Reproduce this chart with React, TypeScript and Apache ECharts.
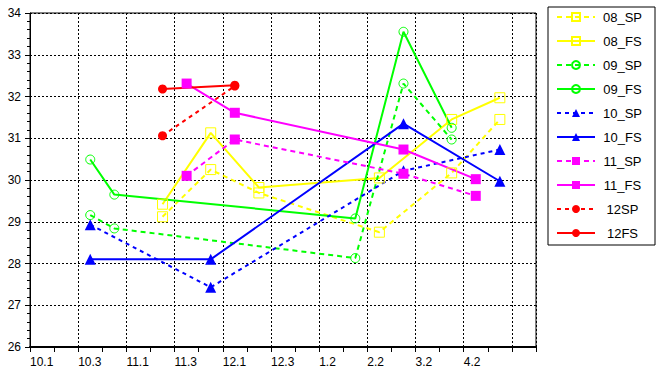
import React, { useEffect, useRef } from "react";
import * as echarts from "echarts";

const xLabels = ["10.1", "10.3", "11.1", "11.3", "12.1", "12.3", "1.2", "2.2", "3.2", "4.2"];

const sp08X = [2.75, 3.75, 4.75, 7.25, 8.75, 9.75];
const sp08Y = [29.12, 30.25, 29.69, 28.75, 30.17, 31.45];
const fs08X = [2.75, 3.75, 4.75, 7.25, 8.75, 9.75];
const fs08Y = [29.42, 31.13, 29.82, 30.05, 31.45, 31.97];

const sp09X = [1.25, 1.75, 6.75, 7.75, 8.75];
const sp09Y = [29.16, 28.84, 28.13, 32.31, 30.97];
const fs09X = [1.25, 1.75, 6.75, 7.75, 8.75];
const fs09Y = [30.49, 29.65, 29.08, 33.55, 31.25];

const sp10X = [1.25, 3.75, 7.75, 9.75];
const sp10Y = [28.93, 27.43, 30.22, 30.73];
const fs10X = [1.25, 3.75, 7.75, 9.75];
const fs10Y = [28.1, 28.1, 31.35, 29.97];

const sp11X = [3.25, 4.25, 7.75, 9.25];
const sp11Y = [30.1, 30.97, 30.15, 29.62];
const fs11X = [3.25, 4.25, 7.75, 9.25];
const fs11Y = [32.31, 31.61, 30.73, 30.02];

const sp12X = [2.75, 4.25];
const sp12Y = [31.06, 32.25];
const fs12X = [2.75, 4.25];
const fs12Y = [32.18, 32.27];

const zip = (xs: number[], ys: number[]) => xs.map((x, i) => [x, ys[i]]);

type Def = {
  name: string;
  xs: number[];
  ys: number[];
  color: string;
  dashed: boolean;
  symbol: string;
  size: number;
  hollow: boolean;
  dash?: number[];
};

const defs: Def[] = [
  { name: "08_SP", xs: sp08X, ys: sp08Y, color: "#ffff00", dashed: true, symbol: "rect", size: 10, hollow: true },
  { name: "08_FS", xs: fs08X, ys: fs08Y, color: "#ffff00", dashed: false, symbol: "rect", size: 10, hollow: true },
  { name: "09_SP", xs: sp09X, ys: sp09Y, color: "#00ff00", dashed: true, symbol: "circle", size: 9, hollow: true },
  { name: "09_FS", xs: fs09X, ys: fs09Y, color: "#00ff00", dashed: false, symbol: "circle", size: 9, hollow: true },
  { name: "10_SP", xs: sp10X, ys: sp10Y, color: "#0000ff", dashed: true, symbol: "triangle", size: 11, hollow: false, dash: [4, 4] },
  { name: "10_FS", xs: fs10X, ys: fs10Y, color: "#0000ff", dashed: false, symbol: "triangle", size: 11, hollow: false },
  { name: "11_SP", xs: sp11X, ys: sp11Y, color: "#ff00ff", dashed: true, symbol: "rect", size: 10, hollow: false },
  { name: "11_FS", xs: fs11X, ys: fs11Y, color: "#ff00ff", dashed: false, symbol: "rect", size: 10, hollow: false },
  { name: "12SP", xs: sp12X, ys: sp12Y, color: "#ff0000", dashed: true, symbol: "circle", size: 9, hollow: false, dash: [4, 4] },
  { name: "12FS", xs: fs12X, ys: fs12Y, color: "#ff0000", dashed: false, symbol: "circle", size: 9, hollow: false },
];

const FONT = "'Liberation Sans', Arial, sans-serif";

export default function App() {
  const ref = useRef<HTMLDivElement>(null);
  useEffect(() => {
    if (!ref.current) return;
    const chart = echarts.init(ref.current, undefined, { renderer: "svg" });
    const series = defs.map((d) => ({
      name: d.name,
      type: "line",
      xAxisIndex: 0,
      yAxisIndex: 0,
      data: zip(d.xs, d.ys),
      symbol: d.symbol,
      symbolSize: d.size,
      showSymbol: true,
      lineStyle: {
        color: d.color,
        width: 2,
        type: d.dashed ? d.dash || [5, 4] : "solid",
      },
      itemStyle: d.hollow
        ? { color: "rgba(0,0,0,0)", borderColor: d.color, borderWidth: 1 }
        : { color: d.color, borderWidth: 0 },
      emphasis: { disabled: true },
    }));
    chart.setOption({
      animation: false,
      backgroundColor: "#ffffff",
      grid: {
        left: 30,
        right: 121,
        top: 13,
        bottom: 25,
        show: true,
        borderColor: "#000",
        borderWidth: 1,
        backgroundColor: "transparent",
      },
      legend: {
        orient: "vertical",
        left: 548,
        top: 7,
        padding: [3, 10, 5, 8],
        itemWidth: 38,
        itemHeight: 10,
        itemGap: 10,
        borderColor: "#000",
        borderWidth: 1,
        backgroundColor: "#fff",
        selectedMode: false,
        formatter: (name: string) => `{a|${name}}`,
        textStyle: {
          fontFamily: FONT,
          fontSize: 13,
          color: "#000",
          rich: {
            a: { width: 45, height: 14, lineHeight: 14, align: "center", fontFamily: FONT, fontSize: 13, color: "#000" },
          },
        },
        data: defs.map((d) => d.name),
      },
      xAxis: [
        {
          type: "value",
          min: 0,
          max: 10.5,
          interval: 0.5,
          position: "bottom",
          axisLine: { show: true, onZero: false, lineStyle: { color: "#000", width: 2 } },
          axisTick: { show: true, length: 5, lineStyle: { color: "#000", width: 1 } },
          splitLine: { show: false },
          axisLabel: {
            show: true,
            align: "left",
            margin: 9,
            fontFamily: FONT,
            fontSize: 12,
            color: "#000",
            showMinLabel: true,
            showMaxLabel: true,
            formatter: (v: number) => {
              const r = Math.round(v);
              if (Math.abs(v - r) > 1e-6) return "";
              return r >= 0 && r < xLabels.length ? xLabels[r] : "";
            },
          },
        },
        {
          type: "value",
          min: 0,
          max: 10.5,
          interval: 1,
          position: "bottom",
          axisLine: { show: false },
          axisTick: { show: false },
          axisLabel: { show: false },
          splitLine: { show: true, lineStyle: { color: "#000", width: 1, type: [2, 2] } },
        },
      ],
      yAxis: {
        type: "value",
        min: 26,
        max: 34,
        interval: 1,
        axisLine: { show: true, onZero: false, lineStyle: { color: "#000", width: 1 } },
        axisTick: { show: true, length: 5, lineStyle: { color: "#000" } },
        minorTick: { show: true, splitNumber: 5, length: 3, lineStyle: { color: "#000" } },
        splitLine: { show: true, lineStyle: { color: "#000", width: 1, type: [2, 2] } },
        axisLabel: {
          margin: 9,
          fontFamily: FONT,
          fontSize: 12,
          color: "#000",
        },
      },
      series,
    });
    return () => chart.dispose();
  }, []);
  return (
    <div
      ref={ref}
      style={{ position: "fixed", left: 0, top: 0, width: 657, height: 372, background: "#fff" }}
    />
  );
}
